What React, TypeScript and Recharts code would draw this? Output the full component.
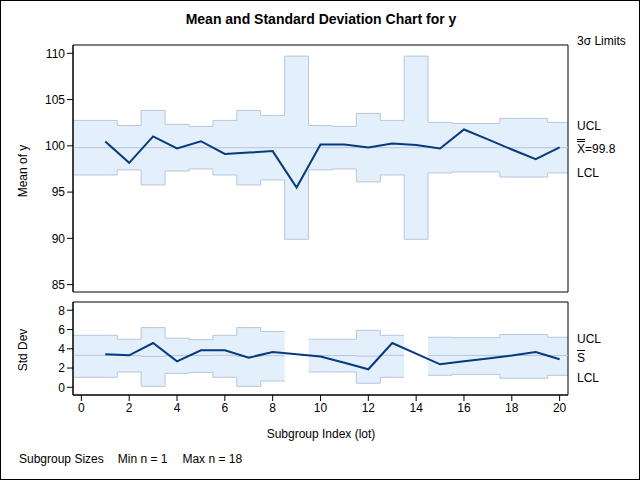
import React from "react";
import {
  ComposedChart,
  Area,
  Line,
  XAxis,
  YAxis,
  ReferenceLine,
  ReferenceArea,
} from "recharts";

const subgroups = [1, 2, 3, 4, 5, 6, 7, 8, 9, 10, 11, 12, 13, 14, 15, 16, 17, 18, 19, 20];

const means = [100.48, 98.16, 101.02, 99.72, 100.5, 99.13, 99.27, 99.43, 95.5, 100.15, 100.15, 99.83, 100.26, 100.08, 99.72, 101.77, 100.7, 99.6, 98.56, 99.83];
const meanUCL = [102.75, 102.2, 103.83, 102.32, 102.1, 102.75, 103.83, 103.29, 109.7, 102.2, 102.1, 103.5, 102.75, 109.7, 102.53, 102.42, 102.42, 102.97, 102.97, 102.53];
const meanLCL = [96.85, 97.4, 95.77, 97.28, 97.5, 96.85, 95.77, 96.31, 89.9, 97.4, 97.5, 96.1, 96.85, 89.9, 97.07, 97.18, 97.18, 96.63, 96.63, 97.07];
const meanCenter = 99.8;

const stds = [3.43, 3.32, 4.6, 2.7, 3.84, 3.84, 3.08, 3.67, null, 3.2, 2.55, 1.87, 4.6, null, 2.39, 2.7, 3.0, 3.3, 3.67, 2.92];
const stdUCL = [5.4, 4.99, 6.2, 5.1, 4.95, 5.4, 6.2, 5.8, null, 4.99, 4.99, 5.92, 5.4, null, 5.2, 5.15, 5.15, 5.48, 5.48, 5.2];
const stdLCL = [1.04, 1.59, 0.1, 1.45, 1.55, 1.04, 0.1, 0.65, null, 1.59, 1.59, 0.42, 1.04, null, 1.25, 1.35, 1.35, 0.94, 0.94, 1.25];
const stdCenter = [3.32, 3.3, 3.2, 3.3, 3.3, 3.32, 3.2, 3.28, null, 3.3, 3.3, 3.24, 3.32, null, 3.31, 3.31, 3.31, 3.3, 3.3, 3.31];

const xTicks = [0, 2, 4, 6, 8, 10, 12, 14, 16, 18, 20];
const meanTicks = [85, 90, 95, 100, 105, 110];
const stdTicks = [0, 2, 4, 6, 8];

const X_MIN = -0.35;
const X_MAX = 20.35;
const MEAN_DOMAIN: [number, number] = [84.2, 110.9];
const STD_DOMAIN: [number, number] = [-0.8, 8.86];

const FONT = '"Liberation Sans", Arial, sans-serif';
const BAND_FILL = "#e4effc";
const BAND_STROKE = "#b8c5db";
const LINE_COLOR = "#063a7e";

// each subgroup gets a flat step from i-0.5 to i+0.5 (first/last run to the frame)
function buildRows(
  values: (number | null)[],
  lo: (number | null)[],
  hi: (number | null)[],
  center?: (number | null)[]
) {
  const rows: any[] = [];
  const last = subgroups.length - 1;
  subgroups.forEach((s, k) => {
    const band = lo[k] == null || hi[k] == null ? null : [lo[k], hi[k]];
    const c = center ? center[k] : null;
    const left = k === 0 ? X_MIN : s - 0.5;
    const right = k === last ? X_MAX : s + 0.5;
    rows.push({ x: left, band, center: c });
    rows.push({ x: s, band, center: c, value: values[k] });
    rows.push({ x: right, band, center: c });
  });
  return rows;
}

const meanRows = buildRows(means, meanLCL, meanUCL);
const stdRows = buildRows(stds, stdLCL, stdUCL, stdCenter);

const tickStyle = { fontSize: 12, fill: "#000", fontFamily: FONT };

const Txt = ({
  x,
  y,
  children,
  size = 12,
  bold = false,
  rotate = false,
}: {
  x: number;
  y: number;
  children: React.ReactNode;
  size?: number;
  bold?: boolean;
  rotate?: boolean;
}) => (
  <div
    style={{
      position: "absolute",
      left: x,
      top: y,
      fontSize: size,
      fontWeight: bold ? "bold" : "normal",
      whiteSpace: "nowrap",
      lineHeight: 1,
      transform: rotate ? "translate(-50%, -50%) rotate(-90deg)" : "translateY(-50%)",
    }}
  >
    {children}
  </div>
);

export default function App() {
  return (
    <div
      style={{
        position: "absolute",
        left: 0,
        top: 0,
        width: 640,
        height: 480,
        border: "1px solid #000",
        boxSizing: "border-box",
        background: "#fff",
        fontFamily: FONT,
        color: "#000",
        overflow: "hidden",
      }}
    >
      <div
        style={{
          position: "absolute",
          left: 0,
          top: 11,
          width: 640,
          textAlign: "center",
          fontSize: 14,
          fontWeight: "bold",
          lineHeight: 1,
        }}
      >
        Mean and Standard Deviation Chart for y
      </div>

      <div style={{ position: "absolute", left: -1, top: -1 }}>
        <ComposedChart
          width={640}
          height={300}
          data={meanRows}
          margin={{ top: 45, right: 72, bottom: 8, left: 33 }}
        >
          <XAxis
            dataKey="x"
            type="number"
            domain={[X_MIN, X_MAX]}
            allowDataOverflow
            hide
          />
          <YAxis
            type="number"
            width={40}
            domain={MEAN_DOMAIN}
            allowDataOverflow
            ticks={meanTicks}
            interval={0}
            tick={tickStyle}
            tickSize={6}
            stroke="#000"
          />
          <Area
            dataKey="band"
            type="linear"
            fill={BAND_FILL}
            fillOpacity={1}
            stroke={BAND_STROKE}
            strokeWidth={1}
            isAnimationActive={false}
            activeDot={false}
            dot={false}
          />
          <ReferenceLine y={meanCenter} stroke={BAND_STROKE} strokeWidth={1} />
          <Line
            dataKey="value"
            type="linear"
            stroke={LINE_COLOR}
            strokeWidth={2}
            dot={false}
            activeDot={false}
            connectNulls
            isAnimationActive={false}
          />
          <ReferenceArea
            x1={X_MIN}
            x2={X_MAX}
            y1={MEAN_DOMAIN[0]}
            y2={MEAN_DOMAIN[1]}
            fill="none"
            stroke="#000"
            strokeWidth={1}
            fillOpacity={0}
            ifOverflow="visible"
          />
        </ComposedChart>
      </div>

      <div style={{ position: "absolute", left: -1, top: 289 }}>
        <ComposedChart
          width={640}
          height={130}
          data={stdRows}
          margin={{ top: 12, right: 72, bottom: 0, left: 33 }}
        >
          <XAxis
            dataKey="x"
            type="number"
            domain={[X_MIN, X_MAX]}
            allowDataOverflow
            ticks={xTicks}
            interval={0}
            tick={tickStyle}
            tickSize={6}
            height={25}
            stroke="#000"
          />
          <YAxis
            type="number"
            width={40}
            domain={STD_DOMAIN}
            allowDataOverflow
            ticks={stdTicks}
            interval={0}
            tick={tickStyle}
            tickSize={6}
            stroke="#000"
          />
          <Area
            dataKey="band"
            type="linear"
            fill={BAND_FILL}
            fillOpacity={1}
            stroke={BAND_STROKE}
            strokeWidth={1}
            isAnimationActive={false}
            activeDot={false}
            dot={false}
          />
          <Line
            dataKey="center"
            type="linear"
            stroke={BAND_STROKE}
            strokeWidth={1}
            dot={false}
            activeDot={false}
            isAnimationActive={false}
          />
          <Line
            dataKey="value"
            type="linear"
            stroke={LINE_COLOR}
            strokeWidth={2}
            dot={false}
            activeDot={false}
            connectNulls
            isAnimationActive={false}
          />
          <ReferenceArea
            x1={X_MIN}
            x2={X_MAX}
            y1={STD_DOMAIN[0]}
            y2={STD_DOMAIN[1]}
            fill="none"
            stroke="#000"
            strokeWidth={1}
            fillOpacity={0}
            ifOverflow="visible"
          />
        </ComposedChart>
      </div>

      <Txt x={22} y={170} rotate>Mean of y</Txt>
      <Txt x={22} y={349} rotate>Std Dev</Txt>

      <Txt x={576} y={40}>3σ Limits</Txt>
      <Txt x={576} y={125}>UCL</Txt>
      <Txt x={576} y={148}>
        <span style={{ textDecorationLine: "overline", textDecorationStyle: "double" }}>X</span>=99.8
      </Txt>
      <Txt x={576} y={172}>LCL</Txt>

      <Txt x={576} y={338}>UCL</Txt>
      <Txt x={576} y={357}>
        <span style={{ textDecorationLine: "overline" }}>S</span>
      </Txt>
      <Txt x={576} y={377}>LCL</Txt>

      <div
        style={{
          position: "absolute",
          left: 0,
          top: 427,
          width: 640,
          textAlign: "center",
          fontSize: 12,
          lineHeight: 1,
        }}
      >
        Subgroup Index (lot)
      </div>

      <Txt x={18} y={458}>
        Subgroup Sizes<span style={{ marginLeft: 14 }}>Min n = 1</span>
        <span style={{ marginLeft: 15 }}>Max n = 18</span>
      </Txt>
    </div>
  );
}
